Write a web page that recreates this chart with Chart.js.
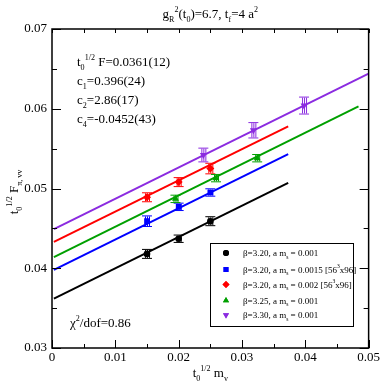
<!DOCTYPE html>
<html><head><meta charset="utf-8">
<script src="https://cdn.jsdelivr.net/npm/chart.js@4/dist/chart.umd.min.js"></script>
<style>html,body{margin:0;padding:0;background:#fff}#wrap{width:382px;height:385px;position:relative}</style>
</head><body><div id="wrap"><canvas id="c"></canvas></div>
<script>
// ---- data ----
const seriesNames = ['b320_1', 'b320_15', 'b320_2', 'b325', 'b330'];
const colors = ['#000000', '#0000ff', '#ff0000', '#00a000', '#8b2be0'];
const pointStyles = ['circle', 'rect', 'rectRot', 'triangle', 'triangle'];
const pointRot = [0, 0, 0, 0, 180];

const xBlack = [0.015, 0.020, 0.025];
const yBlack = [0.0418, 0.0437, 0.0459];
const eBlack = [0.0005, 0.0004, 0.0005];

const xBlue = [0.015, 0.020, 0.025];
const yBlue = [0.0459, 0.0477, 0.0495];
const eBlue = [0.0006, 0.0004, 0.0004];

const xRed = [0.015, 0.020, 0.025];
const yRed = [0.0489, 0.0508, 0.0525];
const eRed = [0.0005, 0.0005, 0.0006];

const xGreen = [0.0195, 0.0259, 0.0324];
const yGreen = [0.0487, 0.0513, 0.0538];
const eGreen = [0.0004, 0.0004, 0.0004];

const xPurple = [0.0239, 0.0318, 0.0398];
const yPurple = [0.0542, 0.0573, 0.0604];
const ePurple = [0.0008, 0.0009, 0.0010];

// fit lines: start/end x and y per series
const fitX0 = [0.0003, 0.0003, 0.0003, 0.0003, 0.0003];
const fitX1 = [0.0373, 0.0373, 0.0373, 0.0484, 0.0500];
const fitY0 = [0.0362, 0.0398, 0.0433, 0.0414, 0.0449];
const fitY1 = [0.0507, 0.0543, 0.0578, 0.0603, 0.0644];

const xTicks = [0, 0.01, 0.02, 0.03, 0.04, 0.05];
const yTicks = [0.03, 0.04, 0.05, 0.06, 0.07];

const legendTexts = [
  [['β=3.20, a m',0],['s',1],[' = 0.001',0]],
  [['β=3.20, a m',0],['s',1],[' = 0.0015 [56',0],['3',2],['x96]',0]],
  [['β=3.20, a m',0],['s',1],[' = 0.002 [56',0],['3',2],['x96]',0]],
  [['β=3.25, a m',0],['s',1],[' = 0.001',0]],
  [['β=3.30, a m',0],['s',1],[' = 0.001',0]]
];

const X = [xBlack, xBlue, xRed, xGreen, xPurple];
const Y = [yBlack, yBlue, yRed, yGreen, yPurple];
const E = [eBlack, eBlue, eRed, eGreen, ePurple];

const FONT = '"Liberation Serif", "Times New Roman", serif';

const datasets = [];
for (let i = 0; i < 5; i++) {
  datasets.push({
    type: 'line', label: 'fit ' + seriesNames[i],
    data: [{x: fitX0[i], y: fitY0[i]}, {x: fitX1[i], y: fitY1[i]}],
    borderColor: colors[i], borderWidth: 2, pointRadius: 0, fill: false, showLine: true, order: 2
  });
}
for (let i = 0; i < 5; i++) {
  datasets.push({
    type: 'scatter', label: seriesNames[i],
    data: X[i].map((x, k) => ({x: x, y: Y[i][k]})),
    errs: E[i],
    backgroundColor: colors[i], borderColor: colors[i], borderWidth: 0,
    pointStyle: pointStyles[i], rotation: pointRot[i],
    pointRadius: (i === 0 ? 3.3 : 4), order: 1
  });
}

function rich(ctx, x, y, parts, size, align) {
  const widths = parts.map(p => {
    const s = p[1] ? size * 0.62 : size;
    ctx.font = s + 'px ' + FONT;
    return ctx.measureText(p[0]).width;
  });
  const total = widths.reduce((a, b) => a + b, 0);
  let cx = x;
  if (align === 'center') cx = x - total / 2;
  else if (align === 'right') cx = x - total;
  ctx.textAlign = 'left';
  ctx.textBaseline = 'alphabetic';
  parts.forEach((p, k) => {
    const s = p[1] ? size * 0.62 : size;
    ctx.font = s + 'px ' + FONT;
    const dy = p[1] === 1 ? size * 0.28 : (p[1] === 2 ? -size * 0.5 : 0);
    ctx.fillText(p[0], cx, y + dy);
    cx += widths[k];
  });
}

function marker(ctx, style, rot, x, y, r, color) {
  ctx.save();
  ctx.fillStyle = color; ctx.strokeStyle = color;
  Chart.helpers.drawPoint(ctx, {pointStyle: style, rotation: rot, radius: r, borderWidth: 0}, x, y);
  ctx.fill();
  ctx.restore();
}

const decor = {
  id: 'decor',
  beforeDatasetsDraw(chart) {
    const ctx = chart.ctx, xs = chart.scales.x, ys = chart.scales.y;
    ctx.save();
    for (let i = 0; i < 5; i++) {
      ctx.strokeStyle = colors[i];
      ctx.lineWidth = 1;
      for (let k = 0; k < X[i].length; k++) {
        const px = xs.getPixelForValue(X[i][k]);
        const y1 = ys.getPixelForValue(Y[i][k] - E[i][k]);
        const y2 = ys.getPixelForValue(Y[i][k] + E[i][k]);
        ctx.beginPath();
        [-2, 0, 2].forEach(d => { ctx.moveTo(px + d + 0.5, y1); ctx.lineTo(px + d + 0.5, y2); });
        ctx.moveTo(px - 5, y1 + 0.5); ctx.lineTo(px + 5, y1 + 0.5);
        ctx.moveTo(px - 5, y2 - 0.5); ctx.lineTo(px + 5, y2 - 0.5);
        ctx.stroke();
      }
    }
    ctx.restore();
  },
  afterDraw(chart) {
    const ctx = chart.ctx, a = chart.chartArea, xs = chart.scales.x, ys = chart.scales.y;
    ctx.save();
    // frame
    ctx.strokeStyle = '#000'; ctx.lineWidth = 1.5;
    ctx.strokeRect(a.left, a.top, a.right - a.left, a.bottom - a.top);
    // inward ticks
    ctx.lineWidth = 1;
    ctx.beginPath();
    for (let v = 0; v <= 0.05 + 1e-9; v += 0.005) {
      const px = Math.round(xs.getPixelForValue(v)) + 0.5;
      const major = Math.abs(v / 0.01 - Math.round(v / 0.01)) < 1e-6;
      const L = major ? 8 : 4;
      ctx.moveTo(px, a.bottom); ctx.lineTo(px, a.bottom - L);
      ctx.moveTo(px, a.top); ctx.lineTo(px, a.top + 4);
    }
    for (let v = 0.03; v <= 0.07 + 1e-9; v += 0.005) {
      const py = Math.round(ys.getPixelForValue(v)) + 0.5;
      const major = Math.abs(v / 0.01 - Math.round(v / 0.01)) < 1e-6;
      const L = major ? 9 : 5;
      ctx.moveTo(a.left, py); ctx.lineTo(a.left + L, py);
      ctx.moveTo(a.right, py); ctx.lineTo(a.right - L, py);
    }
    ctx.stroke();

    ctx.fillStyle = '#000';
    // title
    rich(ctx, (a.left + a.right) / 2, 18,
      [['g',0],['R',1],['2',2],['(t',0],['0',1],[')=6.7, t',0],['f',1],['=4 a',0],['2',2]], 13, 'center');
    // fit results
    rich(ctx, 77, 66, [['t',0],['0',1],['1/2',2],[' F=0.0361(12)',0]], 13, 'left');
    rich(ctx, 77, 85, [['c',0],['1',1],['=0.396(24)',0]], 13, 'left');
    rich(ctx, 77, 104, [['c',0],['2',1],['=2.86(17)',0]], 13, 'left');
    rich(ctx, 77, 123, [['c',0],['4',1],['=-0.0452(43)',0]], 13, 'left');
    rich(ctx, 70, 327, [['χ',0],['2',2],['/dof=0.86',0]], 13, 'left');
    // axis titles
    rich(ctx, (a.left + a.right) / 2, 377, [['t',0],['0',1],['1/2',2],[' m',0],['v',1]], 13, 'center');
    ctx.save();
    ctx.translate(18, 192);
    ctx.rotate(-Math.PI / 2);
    rich(ctx, 0, 0, [['t',0],['0',1],['1/2',2],[' F',0],['π, vv',1]], 13, 'center');
    ctx.restore();

    // legend
    ctx.strokeStyle = '#000'; ctx.lineWidth = 1;
    ctx.strokeRect(210.5, 243.5, 143, 83);
    const ly = [253, 269.5, 284.5, 300.5, 315];
    for (let i = 0; i < 5; i++) {
      marker(ctx, pointStyles[i], pointRot[i], 226, ly[i], i === 0 ? 3 : 3.5, colors[i]);
      ctx.fillStyle = '#000';
      rich(ctx, 243, ly[i] + 3, legendTexts[i], 9, 'left');
    }
    ctx.restore();
  }
};

new Chart(document.getElementById('c'), {
  type: 'scatter',
  data: { datasets: datasets },
  options: {
    responsive: true, maintainAspectRatio: false, animation: false,
    layout: { padding: { top: 29, right: 12, left: 0, bottom: 0 } },
    plugins: { legend: { display: false }, tooltip: { enabled: false }, title: { display: false } },
    scales: {
      x: {
        type: 'linear', min: 0, max: 0.05,
        afterBuildTicks: s => { s.ticks = xTicks.map(v => ({value: v})); },
        ticks: { font: { family: FONT, size: 13 }, color: '#000', padding: 2, autoSkip: false, maxRotation: 0,
          callback: v => (v === 0 ? '0' : v.toFixed(2)) },
        grid: { display: false, drawTicks: false, tickLength: 0 },
        border: { display: false },
        afterFit: s => { s.height = 37; }
      },
      y: {
        type: 'linear', min: 0.03, max: 0.07,
        afterBuildTicks: s => { s.ticks = yTicks.map(v => ({value: v})); },
        ticks: { font: { family: FONT, size: 13 }, color: '#000', padding: 5, autoSkip: false,
          callback: v => v.toFixed(2) },
        grid: { display: false, drawTicks: false, tickLength: 0 },
        border: { display: false },
        afterFit: s => { s.width = 52; }
      }
    }
  },
  plugins: [decor]
});
</script>
</body></html>
